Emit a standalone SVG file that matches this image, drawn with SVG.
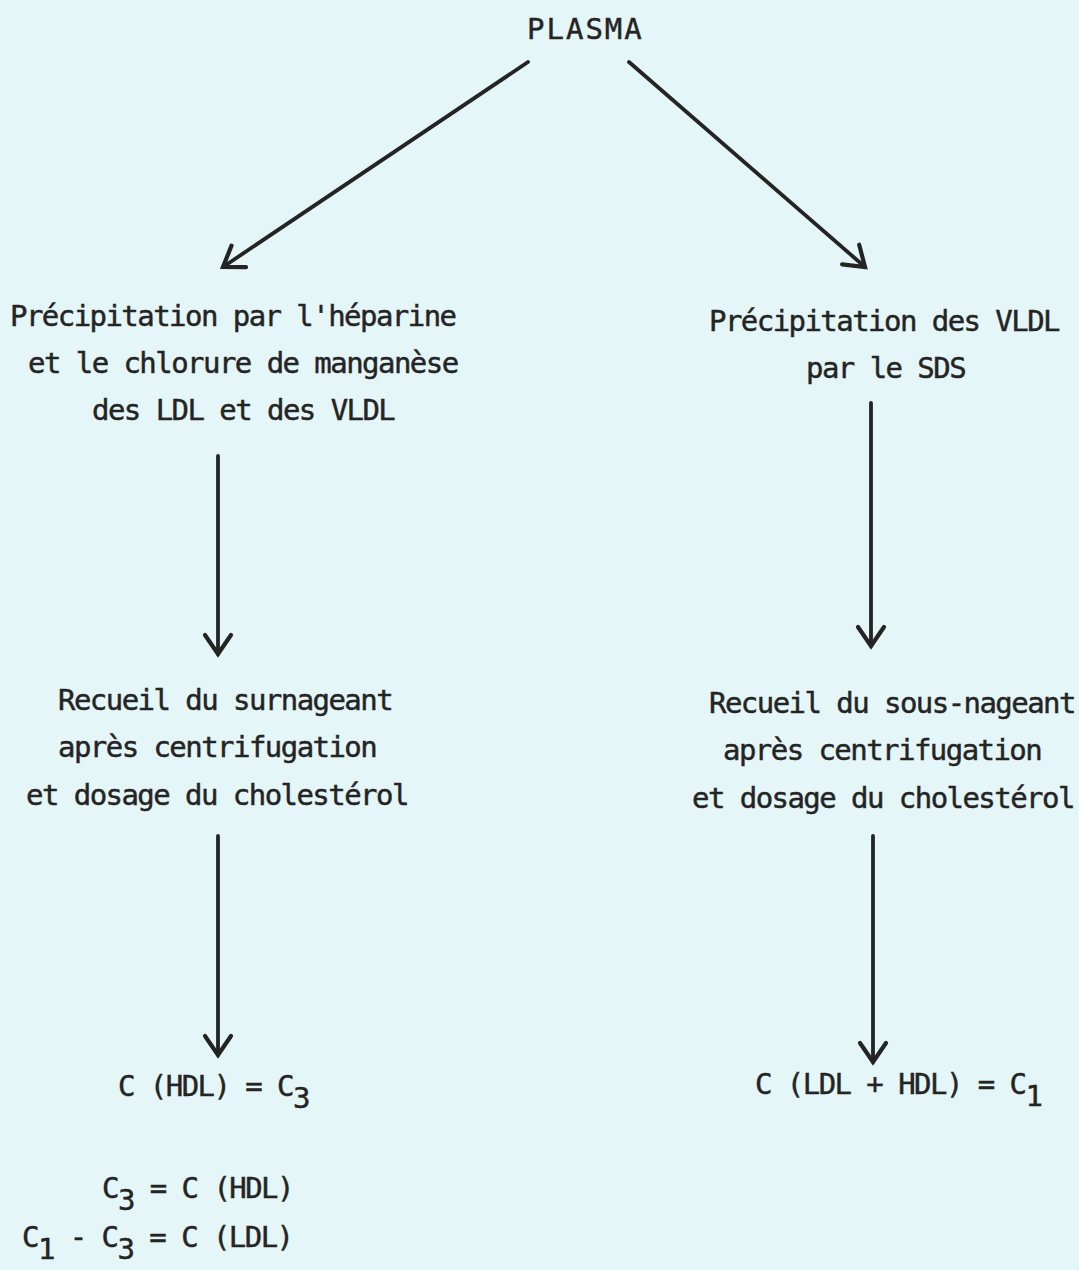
<svg xmlns="http://www.w3.org/2000/svg" width="1079" height="1270" viewBox="0 0 1079 1270">
  <style>
    .t { font-family: "DejaVu Sans Mono", "Liberation Mono", monospace; font-size: 29px; letter-spacing: -1.55px; fill: #242424; stroke: #242424; stroke-width: 0.45px; }
    .wide { letter-spacing: 2px; }
    .c { fill: none; stroke: #242424; stroke-width: 3.8; stroke-linecap: round; }
  </style>
  <defs>
    <marker id="arrow" viewBox="-24 -16 28 32" refX="0" refY="0" markerUnits="userSpaceOnUse" markerWidth="28" markerHeight="32" orient="auto">
      <path d="M-19,-13 L0,0 L-19,13" fill="none" stroke="#242424" stroke-width="4.2" stroke-linecap="round" stroke-linejoin="miter"/>
    </marker>
  </defs>
  <rect width="1079" height="1270" fill="#e4f6f7"/>

  <!-- connectors -->
  <g id="connectors">
    <line class="c" x1="528" y1="62" x2="223" y2="267" marker-end="url(#arrow)"/>
    <line class="c" x1="629" y1="62" x2="865" y2="267" marker-end="url(#arrow)"/>
    <line class="c" x1="218" y1="456" x2="218" y2="654" marker-end="url(#arrow)"/>
    <line class="c" x1="871" y1="403" x2="871" y2="646" marker-end="url(#arrow)"/>
    <line class="c" x1="218" y1="836" x2="218" y2="1055" marker-end="url(#arrow)"/>
    <line class="c" x1="873" y1="836" x2="873" y2="1062" marker-end="url(#arrow)"/>
  </g>

  <!-- nodes -->
  <g id="plasma">
    <text class="t wide" x="527" y="39">PLASMA</text>
  </g>
  <g id="precip-heparine">
    <text class="t" x="10" y="326">Précipitation par l'héparine</text>
    <text class="t" x="28" y="373">et le chlorure de manganèse</text>
    <text class="t" x="92" y="420">des LDL et des VLDL</text>
  </g>
  <g id="precip-sds">
    <text class="t" x="709" y="331">Précipitation des VLDL</text>
    <text class="t" x="806" y="378">par le SDS</text>
  </g>
  <g id="recueil-surnageant">
    <text class="t" x="58" y="710">Recueil du surnageant</text>
    <text class="t" x="58" y="757">après centrifugation</text>
    <text class="t" x="26" y="805">et dosage du cholestérol</text>
  </g>
  <g id="recueil-sous-nageant">
    <text class="t" x="709" y="713">Recueil du sous-nageant</text>
    <text class="t" x="723" y="760">après centrifugation</text>
    <text class="t" x="692" y="808">et dosage du cholestérol</text>
  </g>
  <g id="result-hdl">
    <text class="t" x="118" y="1096">C (HDL) = C<tspan dy="12">3</tspan></text>
  </g>
  <g id="result-ldl-hdl">
    <text class="t" x="755" y="1094">C (LDL + HDL) = C<tspan dy="12">1</tspan></text>
  </g>
  <g id="equations">
    <text class="t" x="102" y="1198">C<tspan dy="12">3</tspan><tspan dy="-12"> = C (HDL)</tspan></text>
    <text class="t" x="22" y="1247">C<tspan dy="12">1</tspan><tspan dy="-12"> - C</tspan><tspan dy="12">3</tspan><tspan dy="-12"> = C (LDL)</tspan></text>
  </g>
</svg>
